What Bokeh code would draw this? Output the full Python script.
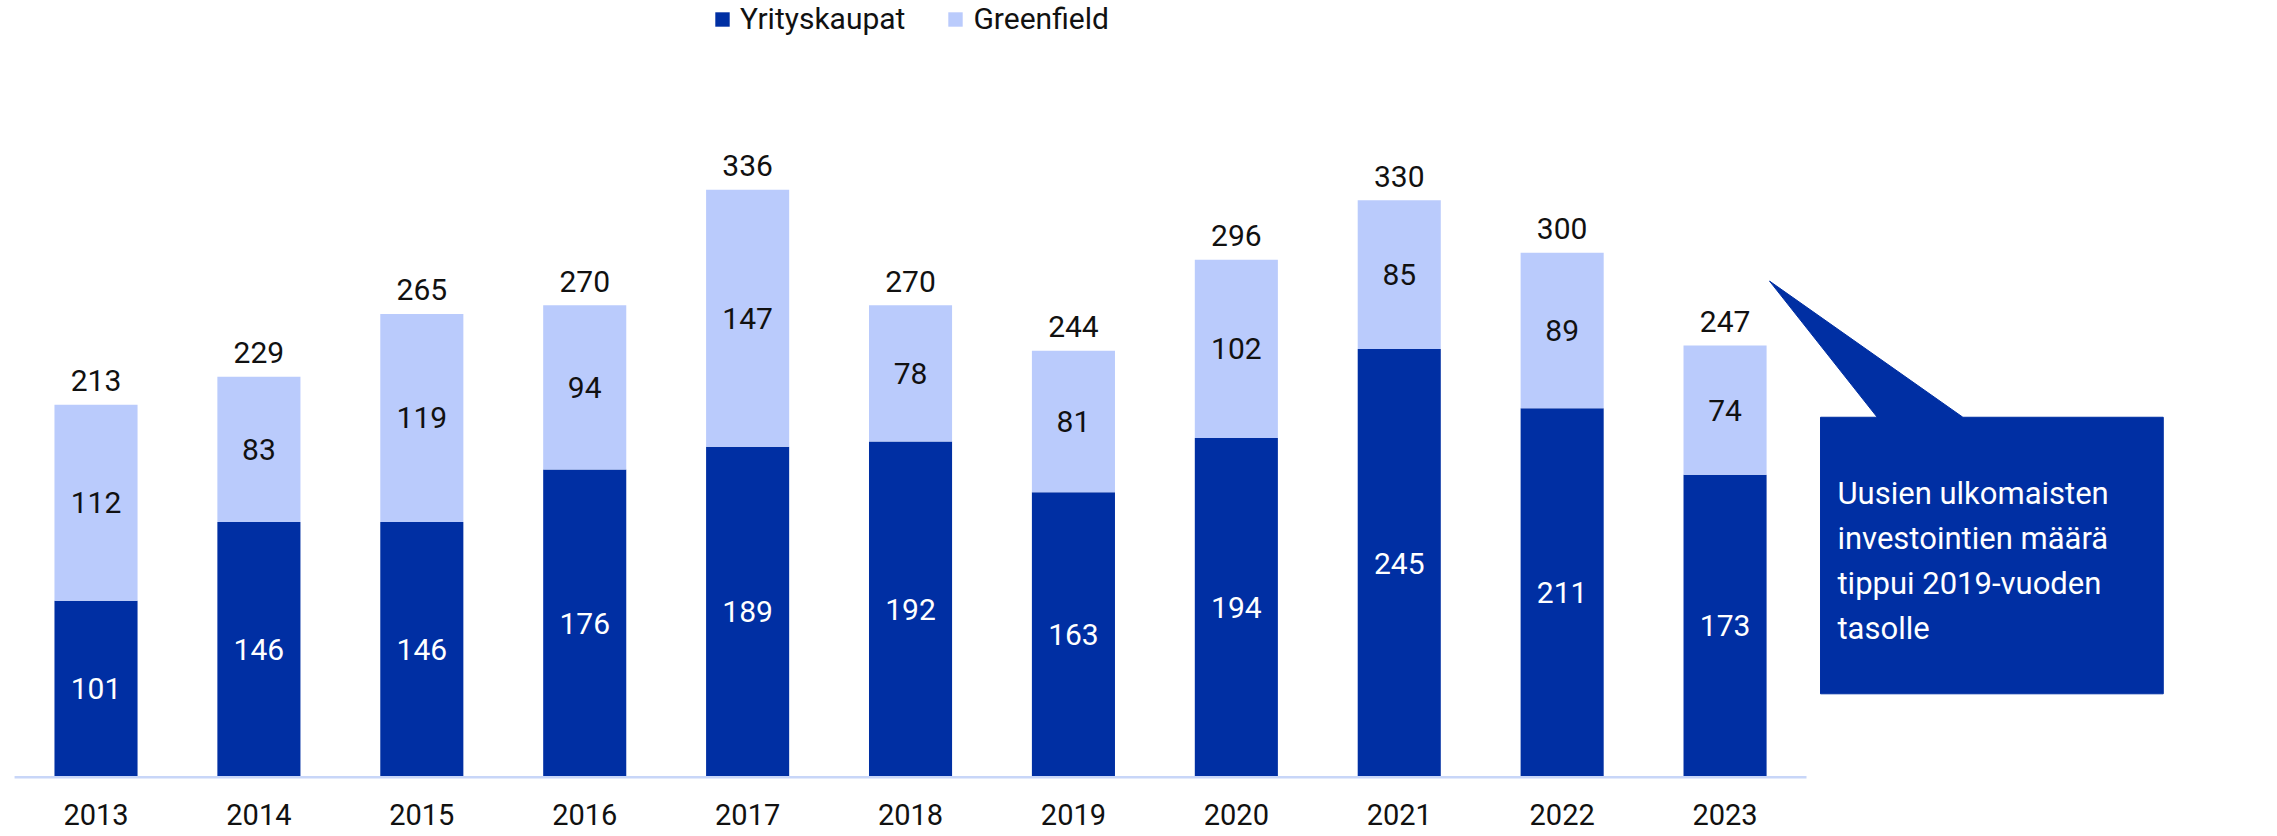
from bokeh.plotting import figure
from bokeh.models import ColumnDataSource, Range1d, Legend, LegendItem
from bokeh.core.properties import value
from bokeh.embed import file_html
from bokeh.resources import INLINE

years = ["2013", "2014", "2015", "2016", "2017", "2018", "2019", "2020", "2021", "2022", "2023"]
yrityskaupat = [101, 146, 146, 176, 189, 192, 163, 194, 245, 211, 173]
greenfield = [112, 83, 119, 94, 147, 78, 81, 102, 85, 89, 74]
totals = [213, 229, 265, 270, 336, 270, 244, 296, 330, 300, 247]
series_names = ["Yrityskaupat", "Greenfield"]
callout_text = "Uusien ulkomaisten\ninvestointien määrä\ntippui 2019-vuoden\ntasolle"

DARK = "#002FA3"
LIGHT = "#BACBFC"
AXIS = "#C8D6F8"
FONT = "Roboto"

xs = list(range(len(years)))
src = ColumnDataSource(dict(
    x=xs, years=years, yk=yrityskaupat, gf=greenfield, tot=totals,
    yk_mid=[a / 2 for a in yrityskaupat],
    gf_mid=[a + b / 2 for a, b in zip(yrityskaupat, greenfield)],
    yk_lbl=[str(v) for v in yrityskaupat],
    gf_lbl=[str(v) for v in greenfield],
    tot_lbl=[str(v) for v in totals],
    zero=[0] * len(years),
))

p = figure(width=2261, height=832, output_backend="svg", toolbar_location=None,
           x_range=Range1d(-0.5863, 13.293), y_range=Range1d(-31.64, 444.3),
           x_axis_type=None, y_axis_type=None, min_border=0)
p.outline_line_color = None
p.grid.visible = False

r = p.vbar_stack(["yk", "gf"], x="x", width=0.51, source=src,
                 color=[DARK, LIGHT], line_width=0)

# axis baseline
p.segment(x0=[-0.5], y0=[0], x1=[len(years) - 0.5], y1=[0], line_color=AXIS, line_width=2.5)

common = dict(text_font=value(FONT), text_font_size="30px", text_align="center")
p.text(x="x", y="yk_mid", text="yk_lbl", source=src, text_color="white",
       text_baseline="middle", **common)
p.text(x="x", y="gf_mid", text="gf_lbl", source=src, text_color="#111111",
       text_baseline="middle", **common)
p.text(x="x", y="tot", text="tot_lbl", source=src, text_color="#111111",
       text_baseline="alphabetic", y_offset=-24, **common)
p.text(x="x", y="zero", text="years", source=src, text_color="#111111",
       text_baseline="middle", y_offset=37, text_font=value(FONT),
       text_font_size="29px", text_align="center")

# callout
bx0, bx1, by0, by1 = 10.586, 12.69, 47.7, 205.9
p.patch(x=[bx0, 10.934, 10.273, 11.46, bx1, bx1, bx0],
        y=[by1, by1, 283.8, by1, by1, by0, by0],
        fill_color=DARK, line_color=DARK, line_width=1)
p.text(x=[10.69], y=[by1], text=[callout_text], text_color="white",
       text_font=value(FONT), text_font_size="31px", text_baseline="top",
       text_line_height=1.21, y_offset=58)

legend = Legend(items=[LegendItem(label=series_names[0], renderers=[r[0]]),
                       LegendItem(label=series_names[1], renderers=[r[1]])],
                orientation="horizontal", location=(713, 796),
                label_text_font=FONT, label_text_font_size="30px",
                label_text_color="#111111",
                glyph_width=18, glyph_height=18, label_standoff=9, spacing=41,
                padding=0, margin=0, border_line_color=None,
                background_fill_alpha=0)
p.add_layout(legend)

open("out.html", "w").write(file_html(p, INLINE))
